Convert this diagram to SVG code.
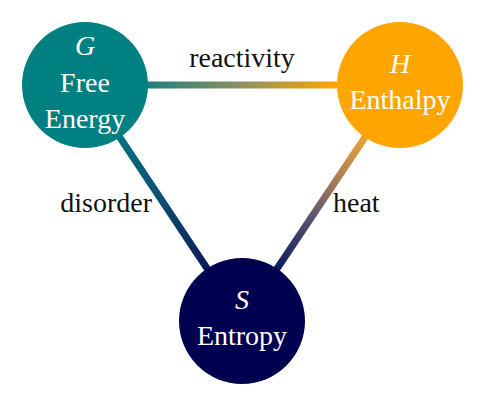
<svg xmlns="http://www.w3.org/2000/svg" width="485" height="407" viewBox="0 0 485 407">
<style>
.lbl{font-family:"Liberation Serif","Times New Roman",serif;font-size:28px;fill:#111}
.nt{font-family:"Liberation Serif","Times New Roman",serif;font-size:28px;fill:#fff;text-anchor:middle}
.it{font-style:italic}
.edge{stroke-width:7;fill:none}
</style>
<defs>
<linearGradient id="gGH" gradientUnits="userSpaceOnUse" x1="148" y1="85" x2="337" y2="85"><stop offset="0" stop-color="#1f807e"/><stop offset="0.5" stop-color="#909060"/><stop offset="1" stop-color="#FFA500"/></linearGradient>
<linearGradient id="gGS" gradientUnits="userSpaceOnUse" x1="120" y1="137" x2="207" y2="269"><stop offset="0" stop-color="#007080"/><stop offset="0.5" stop-color="#0e4c70"/><stop offset="1" stop-color="#0a1a5a"/></linearGradient>
<linearGradient id="gHS" gradientUnits="userSpaceOnUse" x1="365" y1="137" x2="277" y2="269"><stop offset="0" stop-color="#e8a53a"/><stop offset="0.35" stop-color="#a57a55"/><stop offset="0.6" stop-color="#5a5470"/><stop offset="1" stop-color="#0a1a5a"/></linearGradient>
</defs>
<rect width="485" height="407" fill="#fff"/>
<g id="connectors">
<line class="edge" x1="85" y1="85" x2="400" y2="85" stroke="url(#gGH)"/>
<line class="edge" x1="85" y1="85" x2="242" y2="321" stroke="url(#gGS)"/>
<line class="edge" x1="400" y1="85" x2="242" y2="321" stroke="url(#gHS)"/>
<text class="lbl" x="242" y="67" text-anchor="middle">reactivity</text>
<text class="lbl" x="152" y="212" text-anchor="end">disorder</text>
<text class="lbl" x="333" y="212">heat</text>
</g>
<g id="G">
<circle cx="85" cy="85" r="63" fill="#008080"/>
<text class="nt it" x="85" y="55">G</text>
<text class="nt" x="85" y="92">Free</text>
<text class="nt" x="85" y="128">Energy</text>
</g>
<g id="H">
<circle cx="400" cy="85" r="63" fill="#FFA500"/>
<text class="nt it" x="400" y="73">H</text>
<text class="nt" x="400" y="109">Enthalpy</text>
</g>
<g id="S">
<circle cx="242" cy="321" r="63" fill="#000050"/>
<text class="nt it" x="242" y="309">S</text>
<text class="nt" x="242" y="345">Entropy</text>
</g>
</svg>
